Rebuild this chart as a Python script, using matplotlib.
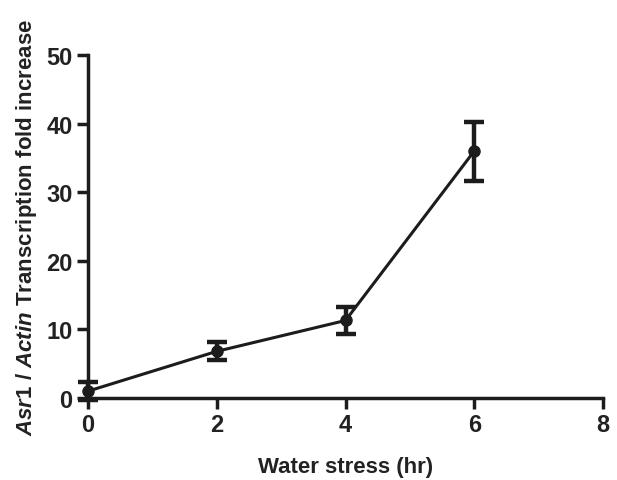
import matplotlib
matplotlib.use("Agg")
import matplotlib.pyplot as plt

hours = [0, 2, 4, 6]
fold = [1.0, 6.8, 11.3, 36.0]
err = [1.3, 1.3, 1.9, 4.3]
xticks = [0, 2, 4, 6, 8]
yticks = [0, 10, 20, 30, 40, 50]

plt.rcParams['font.family'] = ['Liberation Sans', 'DejaVu Sans']
plt.rcParams['mathtext.fontset'] = 'custom'
plt.rcParams['mathtext.it'] = 'Liberation Sans:italic:bold'
plt.rcParams['mathtext.rm'] = 'Liberation Sans:bold'

ink = '#1c1c1c'
fig = plt.figure(figsize=(6.17, 4.81), dpi=100)
ax = fig.add_axes([88/617, 1-399/481, (603-88)/617, (399-56)/481])

ax.errorbar(hours, fold, yerr=err, color=ink, lw=2.2, marker='o', ms=8,
            capsize=7, capthick=3.2, elinewidth=3.2, clip_on=False, zorder=3)

ax.set_xlim(0, 8)
ax.set_ylim(0, 50)
ax.set_xticks(xticks)
ax.set_yticks(yticks)
for s in ['top', 'right']:
    ax.spines[s].set_visible(False)
for s in ['left', 'bottom']:
    ax.spines[s].set_linewidth(2.5)
    ax.spines[s].set_color(ink)
ax.tick_params(direction='out', length=8, width=2.5, color=ink, labelsize=17,
               labelcolor='#222222', pad=3)
for lab in ax.get_xticklabels() + ax.get_yticklabels():
    lab.set_fontweight('bold')

ax.set_xlabel('Water stress (hr)', fontsize=16, fontweight='bold', color='#222222', labelpad=14)
ax.set_ylabel(r'$\mathit{Asr1}$ / $\mathit{Actin}$ Transcription fold increase',
              fontsize=16, fontweight='bold', color='#222222', labelpad=5)

fig.savefig('out.png', dpi=100)
